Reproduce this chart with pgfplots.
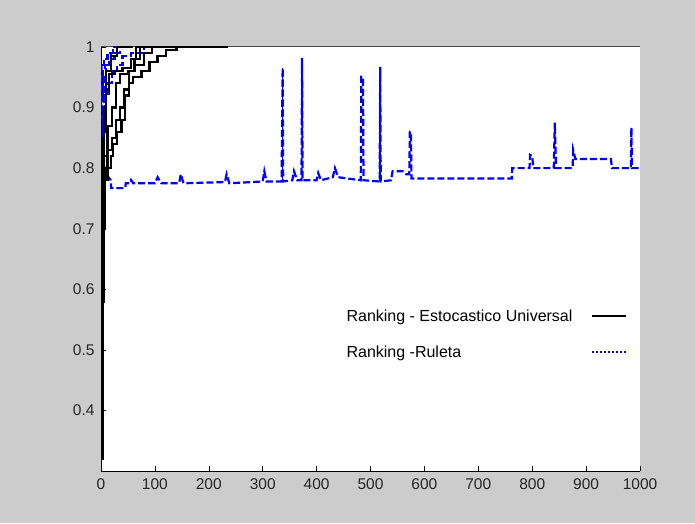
\documentclass[border=0pt]{standalone}
\usepackage{fontspec}
\setmainfont{Liberation Sans}
\usepackage{pgfplots}
\pgfplotsset{compat=1.18}
\definecolor{figgray}{RGB}{204,204,204}
\definecolor{mblue}{RGB}{0,0,255}

% black runs (Ranking - Estocastico Universal)
\pgfplotstableread{
x y
1 0.32
3 0.58
5 0.70
8 0.78
12 0.80
18 0.82
22 0.84
30 0.86
38 0.88
45 0.92
52 0.94
60 0.95
75 0.96
90 0.975
105 0.985
120 0.995
140 1
236 1
}\blackA
\pgfplotstableread{
x y
1 0.58
4 0.72
7 0.80
12 0.83
20 0.85
28 0.88
35 0.90
42 0.93
52 0.96
62 0.98
72 1
150 1
}\blackB
\pgfplotstableread{
x y
1 0.70
3 0.78
6 0.86
10 0.93
15 0.955
25 0.96
40 0.965
55 0.98
65 1
100 1
}\blackC
\pgfplotstableread{
x y
1 0.75
3 0.85
6 0.90
10 0.96
18 0.985
30 1
60 1
}\blackD
\pgfplotstableread{
x y
1 0.78
5 0.82
12 0.87
20 0.90
28 0.94
35 0.955
50 0.96
62 0.97
80 0.99
95 1
120 1
}\blackE

% blue runs (Ranking - Ruleta)
\pgfplotstableread{
x y
1 0.83
3 0.88
6 0.95
10 0.97
15 0.98
25 0.99
35 1
60 1
}\blueA
\pgfplotstableread{
x y
1 0.92
4 0.96
8 0.97
18 0.99
30 1
50 1
}\blueB
\pgfplotstableread{
x y
1 0.97
5 0.98
12 0.99
22 1
40 1
}\blueC
\pgfplotstableread{
x y
1 0.85
3 0.90
8 0.92
14 0.94
20 0.96
30 0.97
40 0.985
55 0.99
80 1
100 1
}\blueD
\pgfplotstableread{
x y
1 0.97
3 0.88
6 0.80
10 0.79
18 0.78
19 0.767
45 0.767
46 0.775
55 0.775
56 0.78
60 0.775
100 0.775
105 0.785
112 0.775
145 0.775
148 0.79
153 0.775
230 0.777
233 0.79
238 0.775
300 0.778
303 0.795
307 0.778
335 0.778
337 0.965
338 0.778
355 0.78
358 0.795
364 0.78
372 0.78
373 0.982
374 0.78
400 0.78
403 0.792
408 0.78
430 0.785
434 0.80
440 0.785
482 0.78
483 0.951
486 0.951
487 0.78
517 0.778
518 0.967
519 0.778
538 0.78
541 0.795
560 0.795
566 0.79
572 0.79
573 0.86
575 0.86
576 0.783
762 0.783
763 0.80
795 0.80
796 0.822
800 0.82
802 0.80
840 0.80
842 0.875
844 0.80
875 0.80
876 0.83
880 0.815
946 0.815
948 0.80
983 0.80
984 0.867
985 0.80
1000 0.80
}\blueLong

\begin{document}
\begin{tikzpicture}
\useasboundingbox (0,0) rectangle (695pt,523pt);
\fill[figgray] (0,0) rectangle (695pt,523pt);
\begin{axis}[
  at={(101pt,52pt)}, anchor=south west,
  scale only axis,
  width=539pt, height=424pt,
  xmin=0, xmax=1000,
  ymin=0.3, ymax=1,
  xtick={0,100,...,1000},
  ytick={0.4,0.5,0.6,0.7,0.8,0.9,1},
  axis x line*=bottom, axis y line*=left,
  axis line style={black, line width=0.8pt, -},
  axis background/.style={fill=white},
  tick align=inside,
  major tick length=5pt,
  tick style={black, line width=0.6pt},
  ticklabel style={font=\fontsize{15.5}{17}\selectfont, text=black!85},
  xticklabel style={yshift=-4pt},
  yticklabel style={xshift=-3pt},
  /pgf/number format/assume math mode=true,
  /pgf/number format/1000 sep={},
  legend plot pos=right,
  legend cell align=left,
  legend style={at={(0.446,0.39)}, anchor=north west, draw=none, fill=none,
    font=\fontsize{16}{18}\selectfont, row sep=19pt},
  legend image code/.code={\path (0pt,0pt) (52pt,0pt);
    \draw[#1] (17pt,0pt) -- (51pt,0pt);},
]
\draw[black!70, line width=1pt] (rel axis cs:0,1) -- (rel axis cs:1,1);
\addlegendimage{black, line width=2pt}
\addlegendentry{Ranking - Estocastico Universal}
\addlegendimage{mblue, line width=2pt, dash pattern=on 2pt off 2pt}
\addlegendentry{Ranking -Ruleta}

\addplot[mblue, line width=2.2pt, dash pattern=on 7pt off 3pt, const plot, forget plot] table {\blueA};
\addplot[mblue, line width=2.2pt, dash pattern=on 7pt off 3pt, const plot, forget plot] table {\blueB};
\addplot[mblue, line width=2.2pt, dash pattern=on 7pt off 3pt, const plot, forget plot] table {\blueC};
\addplot[mblue, line width=2.2pt, dash pattern=on 7pt off 3pt, const plot, forget plot] table {\blueD};
\addplot[mblue, line width=2.2pt, dash pattern=on 7pt off 3pt, forget plot] table {\blueLong};
% the two thin spikes look solid in the reference
\addplot[mblue, line width=1.6pt, forget plot] coordinates {(337,0.778)(337,0.965)};
\addplot[mblue, line width=1.6pt, forget plot] coordinates {(518,0.778)(518,0.967)};

\addplot[black, line width=2.2pt, const plot, forget plot] table {\blackA};
\addplot[black, line width=2.2pt, const plot, forget plot] table {\blackB};
\addplot[black, line width=2.2pt, const plot, forget plot] table {\blackC};
\addplot[black, line width=2.2pt, const plot, forget plot] table {\blackD};
\addplot[black, line width=2.2pt, const plot, forget plot] table {\blackE};
\end{axis}
\end{tikzpicture}
\end{document}
